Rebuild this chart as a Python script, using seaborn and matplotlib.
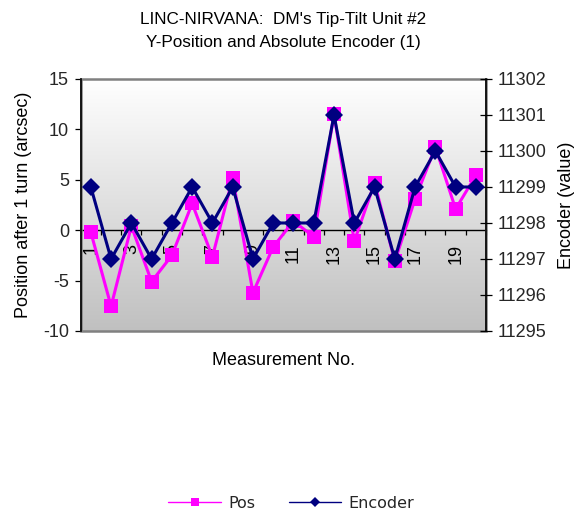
import numpy as np
import pandas as pd
import matplotlib
matplotlib.use("Agg")
import matplotlib.pyplot as plt
from matplotlib.colors import LinearSegmentedColormap
from matplotlib.lines import Line2D
from matplotlib.patches import Rectangle
import seaborn as sns

# Measurement data
measurement = list(range(1, 21))
pos_arcsec = [-0.2, -7.55, 0.4, -5.1, -2.5, 2.65, -2.65, 5.2, -6.2, -1.65,
              0.9, -0.65, 11.5, -1.1, 4.7, -3.1, 3.1, 8.25, 2.1, 5.45]
encoder = [11299, 11297, 11298, 11297, 11298, 11299, 11298, 11299, 11297, 11298,
           11298, 11298, 11301, 11298, 11299, 11297, 11299, 11300, 11299, 11299]
xtick_labels = [str(n) for n in range(1, 21, 2)]

df = pd.DataFrame({"Measurement": measurement, "Pos": pos_arcsec, "Encoder": encoder})

sns.set_theme(style="white")
plt.rcParams["font.family"] = ["Liberation Sans", "DejaVu Sans"]

PINK = "#FF00FF"
NAVY = "#000080"

fig = plt.figure(figsize=(5.86, 5.17), dpi=100)
ax = fig.add_axes([0.1377, 0.3598, 0.6917, 0.4874])

# gradient plot background: white at the top, grey at the bottom
grad = np.linspace(0, 1, 256).reshape(-1, 1)
cmap = LinearSegmentedColormap.from_list("bg", ["#FFFFFF", "#C0C0C0"])
ax.imshow(grad, extent=[0, 1, 0, 1], origin="upper", transform=ax.transAxes,
          aspect="auto", cmap=cmap, zorder=0, interpolation="bilinear")

sns.lineplot(data=df, x="Measurement", y="Pos", ax=ax, color=PINK, lw=2.2,
             marker="s", markersize=10.5, markeredgewidth=0, zorder=3)

ax.set_xlim(0.5, 20.5)
ax.set_ylim(-10, 15)
ax.set_yticks([-10, -5, 0, 5, 10, 15])
ax.set_yticklabels(["-10", "-5", "0", "5", "10", "15"])

# category axis sits on the zero line
ax.spines["bottom"].set_position(("data", 0))
ax.spines["bottom"].set_color("black")
ax.spines["bottom"].set_linewidth(1.0)
ax.spines["top"].set_visible(False)
ax.spines["right"].set_visible(False)
ax.spines["left"].set_color("black")
ax.spines["left"].set_linewidth(1.2)
ax.spines["left"].set_zorder(5)

ax.set_xticks(np.arange(0.5, 21, 1.0))
ax.set_xticklabels([])
ax.set_xticks(list(range(1, 21, 2)), minor=True)
ax.set_xticklabels(xtick_labels, minor=True, rotation=90)
ax.tick_params(axis="x", which="major", direction="out", length=3.5, width=0.9,
               color="black", bottom=True)
ax.tick_params(axis="x", which="minor", length=0, pad=10, labelsize=13,
               labelcolor="black", bottom=True)
ax.tick_params(axis="y", direction="out", length=4.5, width=0.9, color="black",
               labelsize=13, pad=4, left=True)

# grey frame around the plot area
ax.add_patch(Rectangle((0, 0), 1, 1, transform=ax.transAxes, fill=False,
                       edgecolor="#808080", lw=1.8, zorder=4, clip_on=False))

ax.set_xlabel("Measurement No.", fontsize=13, color="black")
ax.xaxis.set_label_coords(0.5, -0.085)
ax.set_ylabel("Position after 1 turn (arcsec)", fontsize=13, color="black", labelpad=8)

ax2 = ax.twinx()
sns.lineplot(data=df, x="Measurement", y="Encoder", ax=ax2, color=NAVY, lw=2.2,
             marker="D", markersize=9.5, markeredgewidth=0, zorder=3)
ax2.set_ylim(11295, 11302)
ax2.set_yticks(list(range(11295, 11303)))
ax2.set_yticklabels([str(v) for v in range(11295, 11303)])
for side in ["top", "left", "bottom"]:
    ax2.spines[side].set_visible(False)
ax2.spines["right"].set_color("black")
ax2.spines["right"].set_linewidth(1.2)
ax2.tick_params(axis="y", direction="inout", length=9, width=0.9, color="black",
                labelsize=13, pad=4, right=True)
ax2.set_ylabel("Encoder (value)", fontsize=13, color="black", labelpad=8)
ax2.set_xlabel("")

ax.set_title("LINC-NIRVANA:  DM's Tip-Tilt Unit #2\nY-Position and Absolute Encoder (1)",
             fontsize=12.3, color="black", pad=23, linespacing=1.7)

handles = [
    Line2D([], [], color=PINK, lw=1.0, marker="s", markersize=6, markeredgewidth=0),
    Line2D([], [], color=NAVY, lw=1.0, marker="D", markersize=5, markeredgewidth=0),
]
fig.legend(handles, ["Pos", "Encoder"], loc="center", bbox_to_anchor=(0.497, 0.027),
           ncol=2, frameon=False, handlelength=3.3, columnspacing=2.1,
           handletextpad=0.45, prop={"family": "DejaVu Sans", "size": 11.5})

fig.savefig("out.png", dpi=100)
